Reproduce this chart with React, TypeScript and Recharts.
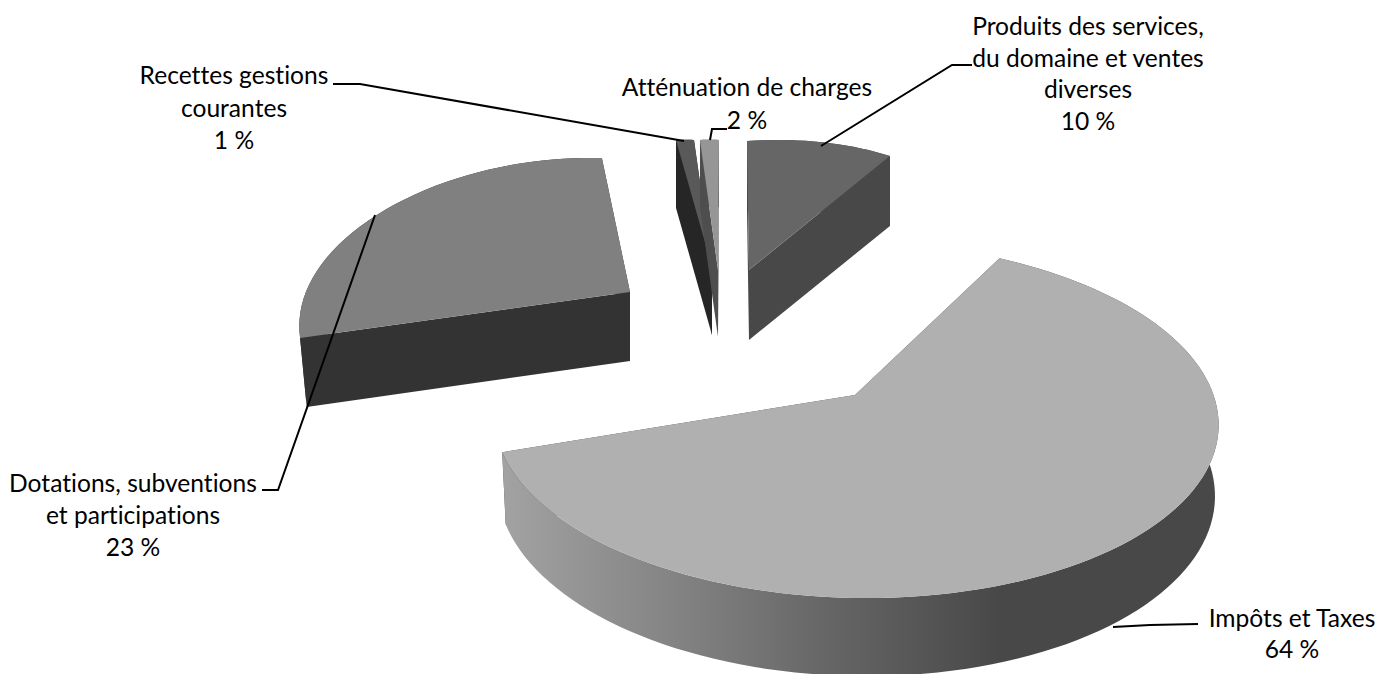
import { Pie, PieChart } from "recharts";

const names = [
  "Produits des services, du domaine et ventes diverses",
  "Impôts et Taxes",
  "Dotations, subventions et participations",
  "Recettes gestions courantes",
  "Atténuation de charges",
];
const values = [10, 64, 23, 1, 2];

// how each name wraps on the picture
const nameLines = [
  ["Produits des services,", "du domaine et ventes", "diverses"],
  ["Impôts et Taxes"],
  ["Dotations, subventions", "et participations"],
  ["Recettes gestions", "courantes"],
  ["Atténuation de charges"],
];

const topColors = ["#666666", "#b0b0b0", "#808080", "#595959", "#969696"];
const cutColors = ["#484848", "#484848", "#333333", "#262626", "#4e4e4e"];

// fake 3D view of each exploded slice: circle -> screen with a small perspective term
const views = [
  { ox: 749, oy: 270, a: 242.5, c: -2, d: 16.4, e: 129, k: 0, bulge: 0, depth: 70, swell: 0, shrink: 1, turn: 0, spread: 1 },
  { ox: 855, oy: 395, a: 358.5, c: -10, d: 0, e: 174.6, k: 0.14, bulge: 0, depth: 70, swell: 0.04, shrink: 0.99, turn: -7.5, spread: 0.969 },
  { ox: 630, oy: 292, a: 322.8, c: 24.5, d: 33.6, e: 183, k: 0.3, bulge: 0.18, depth: 69, swell: 0, shrink: 0.98, turn: 0, spread: 1 },
  { ox: 712, oy: 267, a: 287, c: 18.1, d: -19.8, e: 125.6, k: 0, bulge: 0, depth: 68, swell: 0, shrink: 1, turn: 0, spread: 1 },
  { ox: 718, oy: 270, a: 151.6, c: 1, d: -8.2, e: 130, k: 0, bulge: 0, depth: 67, swell: 0, shrink: 1, turn: 0, spread: 1 },
];

const labelSpots = [
  { x: 1088, y: 35, gap: 31.7 },
  { x: 1292, y: 627, gap: 31 },
  { x: 133, y: 492, gap: 32 },
  { x: 234, y: 84, gap: 32.5 },
  { x: 747, y: 96, gap: 32.5 },
];

const leaders = [
  "972,65 952,65 821,146",
  "1198,624 1150,625 1113,627",
  "262,490 278,490 375,215",
  "333,84 360,84 684,141",
  "727,129 712,129 710,140",
];

const tableData = names.map((name, i) => ({ name, value: values[i] }));

const FONT = "Lato, 'Noto Sans', sans-serif";

function project(i: number, clockDeg: number, t: number) {
  const v = views[i];
  const r = (clockDeg * Math.PI) / 180;
  const s = Math.sin(r);
  const c = Math.cos(r);
  const w = 1 + v.k * c;
  const grow = 1 + v.bulge * Math.sin(Math.PI * t);
  return {
    x: (grow * (v.a * s + v.c * c)) / w,
    y: (grow * (v.d * s + v.e * c)) / w,
  };
}

function SliceShape(props: any) {
  const i: number = props.index ?? names.indexOf(props.name);
  const v = views[i];
  const from = 90 - props.startAngle + v.turn;
  const sweep = (props.startAngle - props.endAngle) * v.spread;
  const steps = Math.max(6, Math.round(sweep / 2));
  const top: string[] = [];
  const low: string[] = [];
  for (let n = 0; n <= steps; n++) {
    const t = n / steps;
    const p = project(i, from + sweep * t, t);
    const drop = v.depth + Math.max(0, -p.y) * v.swell;
    top.push(`${v.ox + p.x},${v.oy - p.y}`);
    low.unshift(`${v.ox + p.x * v.shrink},${v.oy - p.y + drop}`);
  }
  const apex = `${v.ox},${v.oy}`;
  const apexLow = `${v.ox},${v.oy + v.depth}`;
  const gradId = `wall${i}`;
  return (
    <g>
      <defs>
        <linearGradient id={gradId} gradientUnits="userSpaceOnUse" x1={505} y1={0} x2={1000} y2={0}>
          <stop offset="0%" stopColor="#a2a2a2" />
          <stop offset="40%" stopColor="#7e7e7e" />
          <stop offset="65%" stopColor="#666666" />
          <stop offset="100%" stopColor="#484848" />
        </linearGradient>
      </defs>
      <polygon points={[apex, top[0], low[low.length - 1], apexLow].join(" ")} fill={cutColors[i]} />
      <polygon points={[apex, top[top.length - 1], low[0], apexLow].join(" ")} fill={cutColors[i]} />
      <polygon points={[...top, ...low].join(" ")} fill={i === 1 ? `url(#${gradId})` : cutColors[i]} />
      <polygon points={[apex, ...top].join(" ")} fill={topColors[i]} />
    </g>
  );
}

function SliceLabel(props: any) {
  const i: number = props.index;
  const spot = labelSpots[i];
  const lines = [...nameLines[i], `${values[i]} %`];
  return (
    <g>
      <polyline points={leaders[i]} fill="none" stroke="#000000" strokeWidth={2} />
      <text
        textAnchor="middle"
        fontFamily={FONT}
        fontSize={24.6}
        fill="#000000"
        style={{ fontVariantLigatures: "none" }}
      >
        {lines.map((line, n) => (
          <tspan key={n} x={spot.x} y={spot.y + n * spot.gap}>
            {line}
          </tspan>
        ))}
      </text>
    </g>
  );
}

export default function App() {
  return (
    <div style={{ position: "absolute", left: 0, top: 0, width: 1381, height: 674, background: "#ffffff" }}>
      <PieChart width={1381} height={674} margin={{ top: 0, right: 0, bottom: 0, left: 0 }}>
        <Pie
          data={tableData}
          dataKey="value"
          nameKey="name"
          cx={690}
          cy={337}
          outerRadius={300}
          startAngle={90}
          endAngle={-270}
          paddingAngle={0}
          stroke="none"
          shape={SliceShape}
          label={SliceLabel}
          labelLine={false}
          isAnimationActive={false}
        />
      </PieChart>
    </div>
  );
}
